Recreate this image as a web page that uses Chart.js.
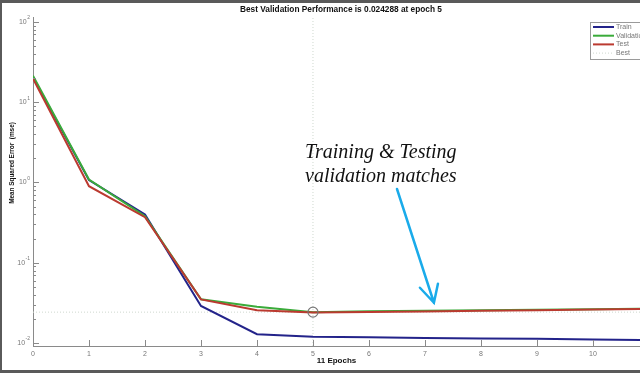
<!DOCTYPE html>
<html>
<head>
<meta charset="utf-8">
<script src="https://cdn.jsdelivr.net/npm/chart.js@4"></script>
<style>
  body { margin: 0; background: #fff; }
  canvas { display: block; }
</style>
</head>
<body>
<canvas id="chart" width="640" height="373"></canvas>
<script>
// values
const epochs = [0, 1, 2, 3, 4, 5, 6, 7, 8, 9, 10, 11];
const trainMse = [20.5, 1.07, 0.40, 0.029, 0.0129, 0.0120, 0.0118, 0.0116, 0.0114, 0.0113, 0.0111, 0.0109];
const validationMse = [21.3, 1.09, 0.38, 0.0352, 0.0283, 0.0243, 0.0249, 0.0252, 0.0256, 0.0260, 0.0264, 0.0268];
const testMse = [19.6, 0.90, 0.37, 0.0350, 0.0257, 0.0240, 0.0244, 0.0248, 0.0252, 0.0257, 0.0262, 0.0266];
const bestEpoch = 5;
const bestPerf = 0.024288;
const yTickValues = [0.01, 0.1, 1, 10, 100];
const yTickExps = ['-2', '-1', '0', '1', '2'];

const yMin = 0.0092;
const yMax = 115;
const xMax = 10.84;

function toPoints(values) {
    return epochs.map((e, i) => ({x: e, y: values[i]}));
}

function isNiceLogTick(v) {
    let exp = Math.floor(Math.log10(v) + 1e-9);
    let mant = v / Math.pow(10, exp);
    return Math.abs(mant - Math.round(mant)) < 1e-6;
}

function isMajorLogTick(v) {
    let l = Math.log10(v);
    return Math.abs(l - Math.round(l)) < 1e-6;
}

const framePlugin = {
    id: 'matlabBits',
    afterDraw(chart) {
        const ctx = chart.ctx;
        const area = chart.chartArea;
        const xs = chart.scales.x;
        const ys = chart.scales.y;
        ctx.save();

        // inward tick marks like matlab
        ctx.strokeStyle = '#8a8a8a';
        ctx.lineWidth = 1;
        ys.ticks.forEach(t => {
            if (!isNiceLogTick(t.value)) return;
            let py = Math.round(ys.getPixelForValue(t.value)) + 0.5;
            let len = isMajorLogTick(t.value) ? 6 : 3;
            ctx.beginPath();
            ctx.moveTo(area.left, py);
            ctx.lineTo(area.left + len, py);
            ctx.stroke();
        });
        xs.ticks.forEach(t => {
            if (t.value !== Math.round(t.value)) return;
            let px = Math.round(xs.getPixelForValue(t.value)) + 0.5;
            ctx.beginPath();
            ctx.moveTo(px, area.bottom);
            ctx.lineTo(px, area.bottom - 6);
            ctx.stroke();
        });

        // y tick labels 10^n with raised exponent
        ctx.fillStyle = '#777';
        ctx.textBaseline = 'middle';
        yTickValues.forEach((v, i) => {
            let py = ys.getPixelForValue(v);
            ctx.font = '5px "Liberation Sans", Arial, sans-serif';
            ctx.textAlign = 'right';
            let ew = ctx.measureText(yTickExps[i]).width;
            ctx.fillText(yTickExps[i], 30, py - 4);
            ctx.font = '7px "Liberation Sans", Arial, sans-serif';
            ctx.fillText('10', 30 - ew - 0.5, py);
        });

        // y axis title
        ctx.save();
        ctx.translate(12, 163);
        ctx.rotate(-Math.PI / 2);
        ctx.fillStyle = '#111';
        ctx.font = 'bold 6.4px "Liberation Sans", Arial, sans-serif';
        ctx.textAlign = 'center';
        ctx.fillText('Mean Squared Error  (mse)', 0, 0);
        ctx.restore();

        // title
        ctx.fillStyle = '#111';
        ctx.font = 'bold 8.3px "Liberation Sans", Arial, sans-serif';
        ctx.textAlign = 'center';
        ctx.textBaseline = 'middle';
        ctx.fillText('Best Validation Performance is ' + bestPerf + ' at epoch ' + bestEpoch,
            xs.getPixelForValue(5.5), 10);

        // legend box built from the datasets
        let items = chart.data.datasets.filter(d => d.label);
        let lx = 590, ly = 22;
        ctx.fillStyle = '#fff';
        ctx.fillRect(lx, ly, 60, 38);
        ctx.strokeStyle = '#9a9a9a';
        ctx.lineWidth = 1;
        ctx.strokeRect(lx + 0.5, ly + 0.5, 60, 37);
        ctx.font = '7px "Liberation Sans", Arial, sans-serif';
        ctx.textAlign = 'left';
        items.forEach((d, i) => {
            let y = ly + 5 + i * 8.7;
            ctx.strokeStyle = d.borderColor;
            ctx.lineWidth = d.label === 'Best' ? 1 : 2;
            ctx.setLineDash(d.borderDash || []);
            ctx.beginPath();
            ctx.moveTo(lx + 3, y);
            ctx.lineTo(lx + 24, y);
            ctx.stroke();
            ctx.setLineDash([]);
            ctx.fillStyle = '#777';
            ctx.fillText(d.label, lx + 26, y);
        });

        // annotation text + arrow
        ctx.fillStyle = '#111';
        ctx.font = 'italic 20px "Liberation Serif", "Times New Roman", serif';
        ctx.textAlign = 'left';
        ctx.textBaseline = 'alphabetic';
        ctx.fillText('Training & Testing', 305, 158);
        ctx.fillText('validation matches', 305, 182);

        let tipX = xs.getPixelForValue(7.16);
        let tipY = ys.getPixelForValue(0.0318);
        ctx.strokeStyle = '#1aabea';
        ctx.lineWidth = 2.5;
        ctx.lineCap = 'round';
        ctx.beginPath();
        ctx.moveTo(397, 189);
        ctx.lineTo(tipX, tipY);
        ctx.moveTo(tipX - 14, tipY - 15);
        ctx.lineTo(tipX, tipY);
        ctx.lineTo(tipX + 4, tipY - 19);
        ctx.stroke();

        // grey frame of the screenshot
        ctx.fillStyle = '#5a5a5a';
        ctx.fillRect(0, 0, chart.width, 3);
        ctx.fillRect(0, 0, 2, chart.height);
        ctx.fillRect(0, chart.height - 3, chart.width, 3);
        ctx.restore();
    }
};

const ctx = document.getElementById('chart').getContext('2d');
new Chart(ctx, {
    type: 'line',
    data: {
        datasets: [
            {label: 'Train', data: toPoints(trainMse), borderColor: '#23238a', borderWidth: 2, pointRadius: 0, order: 2},
            {label: 'Validation', data: toPoints(validationMse), borderColor: '#3aab3a', borderWidth: 2, pointRadius: 0, order: 1},
            {label: 'Test', data: toPoints(testMse), borderColor: '#bb3a30', borderWidth: 2, pointRadius: 0, order: 0},
            {label: 'Best', data: [{x: 0, y: bestPerf}, {x: 11, y: bestPerf}], borderColor: '#cfd8cf',
                borderWidth: 1, borderDash: [1, 2], pointRadius: 0, order: 3},
            {label: '', data: [{x: bestEpoch, y: yMin}, {x: bestEpoch, y: yMax}], borderColor: '#cfd8cf',
                borderWidth: 1, borderDash: [1, 2], pointRadius: 0, order: 3},
            {label: '', data: [{x: bestEpoch, y: bestPerf}], showLine: false, pointRadius: 5,
                pointBorderColor: '#777', pointBackgroundColor: 'rgba(0,0,0,0)', pointBorderWidth: 1.2, order: -1}
        ]
    },
    options: {
        responsive: false,
        animation: false,
        devicePixelRatio: 1,
        layout: {autoPadding: false, padding: {top: 17, left: 0, right: 0, bottom: 0}},
        plugins: {legend: {display: false}, tooltip: {enabled: false}},
        scales: {
            x: {
                type: 'linear',
                min: 0,
                max: xMax,
                afterFit(scale) { scale.height = 27; },
                grid: {display: false, drawTicks: false},
                border: {display: true, color: '#8a8a8a', width: 1},
                ticks: {
                    stepSize: 1, includeBounds: false, autoSkip: false, maxRotation: 0,
                    padding: 4, color: '#777', font: {size: 7, family: '"Liberation Sans", Arial'}
                },
                title: {
                    display: true, text: '11 Epochs', color: '#111',
                    font: {size: 8, weight: 'bold', family: '"Liberation Sans", Arial'},
                    padding: {top: 0, bottom: 7}
                }
            },
            y: {
                type: 'logarithmic',
                min: yMin,
                max: yMax,
                afterFit(scale) { scale.width = 33; },
                grid: {display: false, drawTicks: false},
                border: {display: true, color: '#8a8a8a', width: 1},
                ticks: {display: true, autoSkip: false, callback: () => ''}
            }
        }
    },
    plugins: [framePlugin]
});
</script>
</body>
</html>
